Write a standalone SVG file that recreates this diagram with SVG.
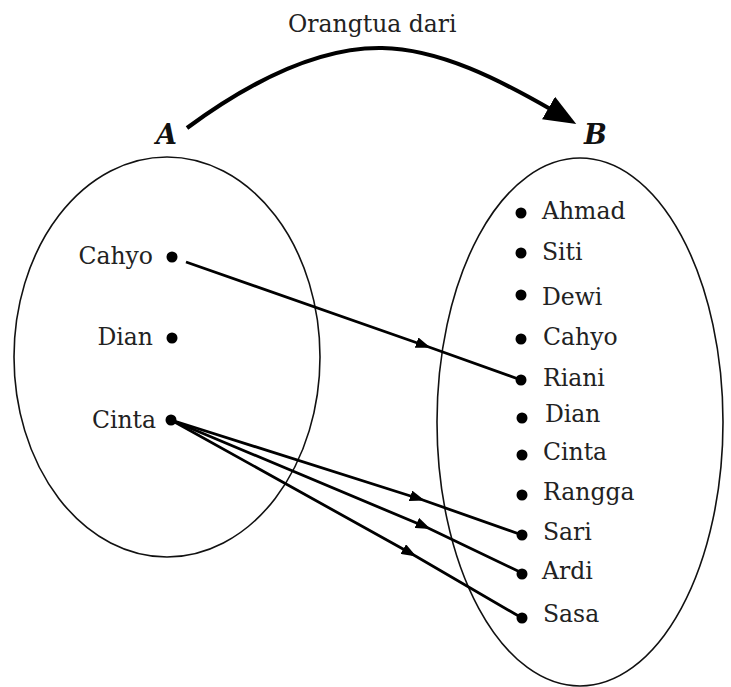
<svg xmlns="http://www.w3.org/2000/svg" width="731" height="687" viewBox="0 0 731 687">
<style>
  .lbl { font-family: "DejaVu Serif", "Liberation Serif", serif; font-size: 23.5px; fill: #222; }
  .set { font-family: "DejaVu Serif", "Liberation Serif", serif; font-size: 27px; font-weight: bold; font-style: italic; fill: #111; }
  .dot { fill: #000; }
  .ell { fill: none; stroke: #111; stroke-width: 1.6; }
  .conn { fill: none; stroke: #000; stroke-width: 2.8; marker-mid: url(#mid); }
</style>
<defs>
  <marker id="mid" viewBox="0 0 15 11" refX="10" refY="5.5" markerWidth="15" markerHeight="11" markerUnits="userSpaceOnUse" orient="auto">
    <path d="M0,0 L15,5.5 L0,11 Z" fill="#000"/>
  </marker>
  <marker id="big" viewBox="0 0 32 26" refX="4" refY="13" markerWidth="32" markerHeight="26" markerUnits="userSpaceOnUse" orient="auto">
    <path d="M0,0 L32,13 L0,26 Z" fill="#000"/>
  </marker>
</defs>
<rect width="731" height="687" fill="#fff"/>

<g id="setA">
  <ellipse class="ell" cx="167" cy="357" rx="153" ry="200"/>
  <text class="set" x="156" y="144">A</text>
</g>
<g id="setB">
  <ellipse class="ell" cx="580" cy="422" rx="143" ry="264"/>
  <text class="set" x="584" y="144">B</text>
</g>

<g id="title">
  <text class="lbl" x="288" y="32">Orangtua dari</text>
</g>

<g id="A-Cahyo"><circle class="dot" cx="172" cy="257" r="5.5"/><text class="lbl" x="153" y="264" text-anchor="end">Cahyo</text></g>
<g id="A-Dian"><circle class="dot" cx="172" cy="338" r="5.5"/><text class="lbl" x="153" y="345" text-anchor="end">Dian</text></g>
<g id="A-Cinta"><circle class="dot" cx="171" cy="420" r="5.5"/><text class="lbl" x="156" y="428" text-anchor="end">Cinta</text></g>

<g id="B-Ahmad"><circle class="dot" cx="521" cy="213" r="5.5"/><text class="lbl" x="542" y="219">Ahmad</text></g>
<g id="B-Siti"><circle class="dot" cx="521" cy="253" r="5.5"/><text class="lbl" x="542" y="260">Siti</text></g>
<g id="B-Dewi"><circle class="dot" cx="521" cy="295" r="5.5"/><text class="lbl" x="542" y="305">Dewi</text></g>
<g id="B-Cahyo"><circle class="dot" cx="521" cy="339" r="5.5"/><text class="lbl" x="543" y="345">Cahyo</text></g>
<g id="B-Riani"><circle class="dot" cx="521" cy="380" r="5.5"/><text class="lbl" x="543" y="386">Riani</text></g>
<g id="B-Dian"><circle class="dot" cx="522" cy="418" r="5.5"/><text class="lbl" x="545" y="422">Dian</text></g>
<g id="B-Cinta"><circle class="dot" cx="522" cy="455" r="5.5"/><text class="lbl" x="543" y="460">Cinta</text></g>
<g id="B-Rangga"><circle class="dot" cx="522" cy="495" r="5.5"/><text class="lbl" x="543" y="500">Rangga</text></g>
<g id="B-Sari"><circle class="dot" cx="522" cy="535" r="5.5"/><text class="lbl" x="543" y="540">Sari</text></g>
<g id="B-Ardi"><circle class="dot" cx="522" cy="574" r="5.5"/><text class="lbl" x="542" y="579">Ardi</text></g>
<g id="B-Sasa"><circle class="dot" cx="522" cy="618" r="5.5"/><text class="lbl" x="543" y="622">Sasa</text></g>

<g id="connectors">
  <path d="M187,128 C255,78 320,47 382,48 C440,49 500,80 552,110" fill="none" stroke="#000" stroke-width="4.2" marker-end="url(#big)"/>
  <path class="conn" d="M186,262 L426,346 L521,380"/>
  <path class="conn" d="M171,420 L420,499 L522,535"/>
  <path class="conn" d="M171,420 L426,527 L520,572"/>
  <path class="conn" d="M171,420 L412,554 L522,618"/>
</g>
</svg>
